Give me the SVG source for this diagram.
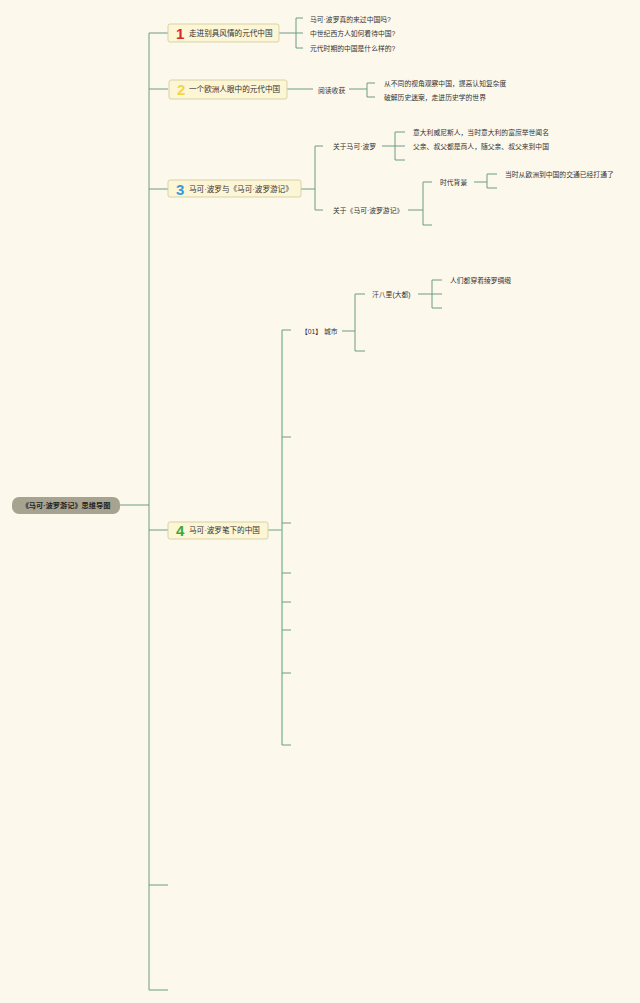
<svg xmlns="http://www.w3.org/2000/svg" width="640" height="1003" viewBox="0 0 640 1003">
<style>
text{font-family:"Liberation Sans","Noto Sans CJK SC",sans-serif;fill:#333;dominant-baseline:central}
.c{font-size:6.8px}
.m{font-size:7.6px}
.n{font-size:15px;font-weight:bold}
.box{fill:#fcf5d6;stroke:#d6d3a6;stroke-width:1}
.ln{fill:none;stroke:#6c9c84;stroke-width:1}
.ln2{fill:none;stroke:#96c3a4;stroke-width:1.6}
</style>
<rect width="640" height="1003" fill="#fdf8ec"/>
<g id="connectors">
<path class="ln" d="M120 505H149M149 33V990M149 33H168M149 89H168M149 189H168M149 530H168M149 885H168M149 990H168"/>
<path class="ln" d="M279 33H296M296 18V48M296 18H303M296 33H303M296 48H303"/>
<path class="ln" d="M287 89H313M349 89H367M367 83V97M367 83H375M367 97H375"/>
<path class="ln" d="M301 189H315M315 146V210M315 146H323M315 210H323"/>
<path class="ln" d="M382 146H395M395 132V160M395 132H405M395 146H405M395 160H405"/>
<path class="ln" d="M408 210H423M423 182V225M423 182H432M423 225H432"/>
<path class="ln" d="M474 182H487M487 174V188M487 174H497M487 188H497"/>
<path class="ln2" d="M268 530H282M282 330V745"/>
<path class="ln" d="M282 330H291M282 437H291M282 523H291M282 573H291M282 602H291M282 630H291M282 673H291M282 745H291"/>
<path class="ln" d="M342 331H355M355 294V351M355 294H365M355 351H365"/>
<path class="ln" d="M418 294H432M432 280V308M432 280H442M432 294H442M432 308H442"/>
</g>
<g id="root">
<rect x="12" y="497" width="108" height="17" rx="7" fill="#a7a391"/>
<text x="66" y="505.5" text-anchor="middle" style="font-size:7.2px;font-weight:bold;fill:#222">《马可·波罗游记》思维导图</text>
</g>
<g id="n1">
<rect class="box" x="168" y="24" width="111" height="18" rx="2"/>
<text class="n" x="176" y="33" style="fill:#d62a2a">1</text>
<text class="m" x="189" y="33">走进别具风情的元代中国</text>
</g>
<g id="n1c">
<text class="c" x="310" y="19">马可·波罗真的来过中国吗?</text>
<text class="c" x="310" y="33">中世纪西方人如何看待中国?</text>
<text class="c" x="310" y="48">元代时期的中国是什么样的?</text>
</g>
<g id="n2">
<rect class="box" x="169" y="80" width="118" height="19" rx="2"/>
<text class="n" x="177" y="89.5" style="fill:#f2d64a">2</text>
<text class="m" x="189" y="89.5">一个欧洲人眼中的元代中国</text>
</g>
<g id="n2c">
<text class="c" x="318" y="90">阅读收获</text>
<text class="c" x="384" y="83">从不同的视角观察中国，提高认知复杂度</text>
<text class="c" x="384" y="97">破解历史迷案，走进历史学的世界</text>
</g>
<g id="n3">
<rect class="box" x="168" y="180" width="133" height="17" rx="2"/>
<text class="n" x="176" y="189" style="fill:#3a9ad9">3</text>
<text class="m" x="189" y="189">马可·波罗与《马可·波罗游记》</text>
</g>
<g id="n3c">
<text class="c" x="333" y="146">关于马可·波罗</text>
<text class="c" x="413" y="132">意大利威尼斯人，当时意大利的富庶举世闻名</text>
<text class="c" x="413" y="146">父亲、叔父都是商人，随父亲、叔父来到中国</text>
<text class="c" x="333" y="210">关于《马可·波罗游记》</text>
<text class="c" x="440" y="182">时代背景</text>
<text class="c" x="505" y="174">当时从欧洲到中国的交通已经打通了</text>
</g>
<g id="n4">
<rect class="box" x="168" y="522" width="100" height="17" rx="2"/>
<text class="n" x="176" y="530.5" style="fill:#3aa83a">4</text>
<text class="m" x="189" y="530.5">马可·波罗笔下的中国</text>
</g>
<g id="n4c">
<text class="c" x="301" y="331">【01】 城市</text>
<text class="c" x="372" y="294">汗八里(大都)</text>
<text class="c" x="450" y="280">人们都穿着绫罗绸缎</text>
</g>
</svg>
